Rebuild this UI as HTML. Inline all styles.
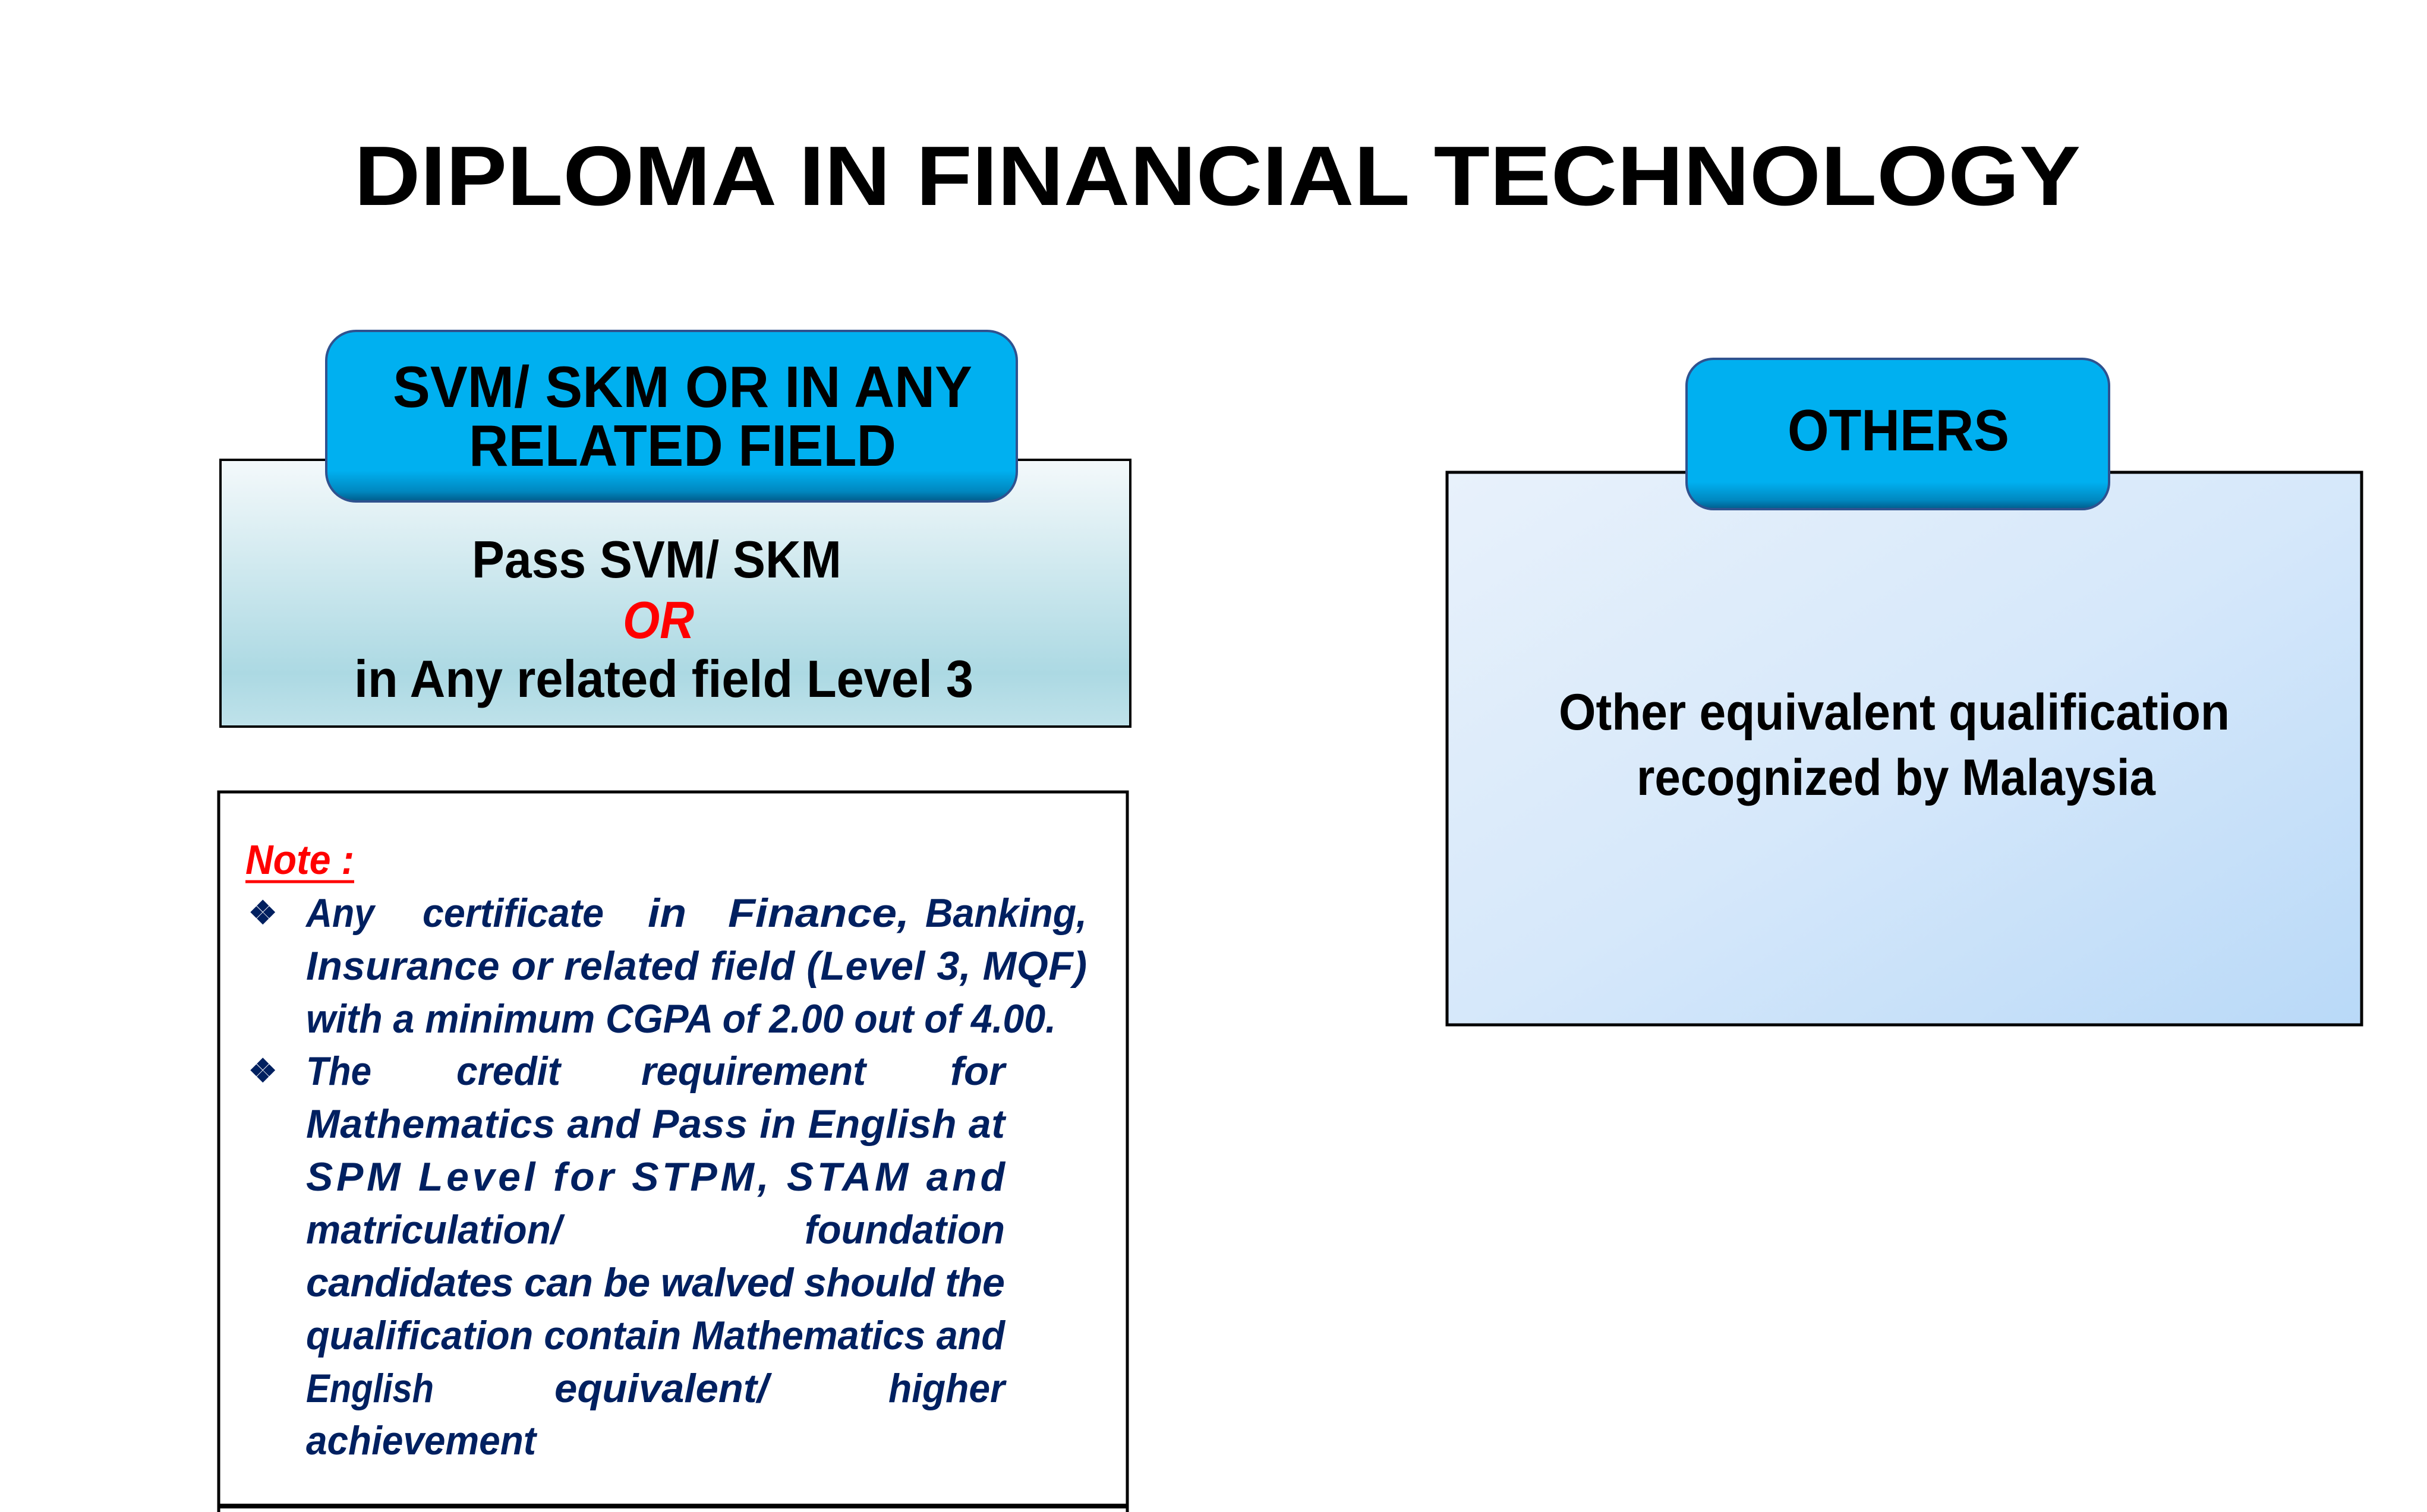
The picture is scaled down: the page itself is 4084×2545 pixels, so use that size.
<!DOCTYPE html>
<html><head><meta charset="utf-8"><style>
html,body{margin:0;padding:0;background:#fff;}
svg{display:block;}
text{font-family:"Liberation Sans",sans-serif;}
</style></head><body>
<svg width="4084" height="2545" viewBox="0 0 4084 2545" xmlns="http://www.w3.org/2000/svg">
<defs>
<linearGradient id="g1" x1="0" y1="0" x2="0" y2="1">
<stop offset="0" stop-color="#f4f9fb"/><stop offset="0.8" stop-color="#acd9e3"/><stop offset="1" stop-color="#bfe2ea"/>
</linearGradient>
<linearGradient id="g2" x1="0" y1="0" x2="1" y2="1">
<stop offset="0" stop-color="#e8f1fb"/><stop offset="0.5" stop-color="#d6e8fa"/><stop offset="1" stop-color="#b9d9f8"/>
</linearGradient>
<linearGradient id="tab" x1="0" y1="0" x2="0" y2="1">
<stop offset="0" stop-color="#00b0f0"/><stop offset="0.82" stop-color="#00b0f0"/><stop offset="0.94" stop-color="#0088c0"/><stop offset="1" stop-color="#005b8a"/>
</linearGradient>
</defs>

<text x="596" y="345" font-size="142" font-weight="bold" textLength="2905" lengthAdjust="spacingAndGlyphs">DIPLOMA IN FINANCIAL TECHNOLOGY</text>

<!-- left box 1 -->
<rect x="371" y="774" width="1531" height="449" fill="url(#g1)" stroke="#000" stroke-width="4"/>
<rect x="549" y="557" width="1162" height="287" rx="50" fill="url(#tab)" stroke="#2f528f" stroke-width="4"/>
<text x="661" y="685" font-size="98" font-weight="bold" textLength="975" lengthAdjust="spacingAndGlyphs">SVM/ SKM OR IN ANY</text>
<text x="789" y="784" font-size="98" font-weight="bold" textLength="719" lengthAdjust="spacingAndGlyphs">RELATED FIELD</text>
<text x="794" y="972" font-size="88" font-weight="bold" textLength="622" lengthAdjust="spacingAndGlyphs">Pass SVM/ SKM</text>
<text x="1048" y="1074" font-size="88" font-weight="bold" font-style="italic" fill="#ff0000" textLength="120" lengthAdjust="spacingAndGlyphs">OR</text>
<text x="596" y="1173" font-size="88" font-weight="bold" textLength="1042" lengthAdjust="spacingAndGlyphs">in Any related field Level 3</text>

<!-- note box -->
<path d="M368 2545 V1333 H1897 V2545" fill="none" stroke="#000" stroke-width="5"/>
<line x1="368" y1="2535" x2="1897" y2="2535" stroke="#000" stroke-width="8"/>
<text x="413" y="1471" font-size="70" font-weight="bold" font-style="italic" fill="#ff0000" textLength="183" lengthAdjust="spacingAndGlyphs">Note :</text>
<line x1="413" y1="1484" x2="596" y2="1484" stroke="#ff0000" stroke-width="5"/>
<g fill="#002060" font-size="68" font-weight="bold" font-style="italic">
<text x="418" y="1555" font-size="54" font-style="normal">❖</text>
<text x="418" y="1821" font-size="54" font-style="normal">❖</text>
<text x="515" y="1560" textLength="115" lengthAdjust="spacingAndGlyphs">Any</text>
<text x="711" y="1560" textLength="305" lengthAdjust="spacingAndGlyphs">certificate</text>
<text x="1090" y="1560" textLength="65" lengthAdjust="spacingAndGlyphs">in</text>
<text x="1225" y="1560" textLength="305" lengthAdjust="spacingAndGlyphs">Finance,</text>
<text x="1557" y="1560" textLength="272" lengthAdjust="spacingAndGlyphs">Banking,</text>
<text x="515" y="1649" textLength="1314" lengthAdjust="spacing">Insurance or related field (Level 3, MQF)</text>
<text x="515" y="1738" textLength="1262" lengthAdjust="spacingAndGlyphs">with a minimum CGPA of 2.00 out of 4.00.</text>
<text x="515" y="1826" textLength="110" lengthAdjust="spacingAndGlyphs">The</text>
<text x="768" y="1826" textLength="175" lengthAdjust="spacingAndGlyphs">credit</text>
<text x="1079" y="1826" textLength="378" lengthAdjust="spacingAndGlyphs">requirement</text>
<text x="1599" y="1826" textLength="92" lengthAdjust="spacingAndGlyphs">for</text>
<text x="515" y="1915" textLength="1176" lengthAdjust="spacing">Mathematics and Pass in English at</text>
<text x="515" y="2004" textLength="1176" lengthAdjust="spacing">SPM Level for STPM, STAM and</text>
<text x="515" y="2093" textLength="430" lengthAdjust="spacingAndGlyphs">matriculation/</text>
<text x="1354" y="2093" textLength="337" lengthAdjust="spacingAndGlyphs">foundation</text>
<text x="515" y="2182" textLength="1176" lengthAdjust="spacing">candidates can be walved should the</text>
<text x="515" y="2271" textLength="1176" lengthAdjust="spacingAndGlyphs">qualification contain Mathematics and</text>
<text x="515" y="2360" textLength="215" lengthAdjust="spacingAndGlyphs">English</text>
<text x="933" y="2360" textLength="360" lengthAdjust="spacingAndGlyphs">equivalent/</text>
<text x="1495" y="2360" textLength="196" lengthAdjust="spacingAndGlyphs">higher</text>
<text x="515" y="2448" textLength="387" lengthAdjust="spacingAndGlyphs">achievement</text>
</g>

<!-- right box -->
<rect x="2435" y="795" width="1539" height="930" fill="url(#g2)" stroke="#000" stroke-width="5"/>
<rect x="2838" y="604" width="711" height="253" rx="45" fill="url(#tab)" stroke="#2f528f" stroke-width="4"/>
<text x="3008" y="758" font-size="98" font-weight="bold" textLength="373" lengthAdjust="spacingAndGlyphs">OTHERS</text>
<text x="2623" y="1228" font-size="86" font-weight="bold" textLength="1129" lengthAdjust="spacingAndGlyphs">Other equivalent qualification</text>
<text x="2754" y="1338" font-size="86" font-weight="bold" textLength="873" lengthAdjust="spacingAndGlyphs">recognized by Malaysia</text>
</svg>
</body></html>
